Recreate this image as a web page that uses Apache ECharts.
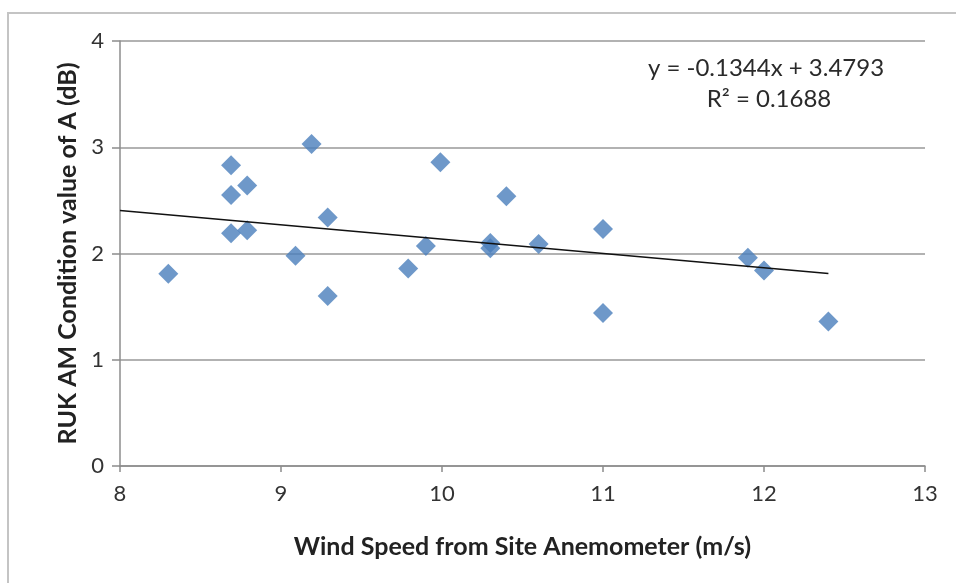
<!DOCTYPE html>
<html>
<head>
<meta charset="utf-8">
<script src="https://cdn.jsdelivr.net/npm/echarts@6/dist/echarts.min.js"></script>
<style>html,body{margin:0;padding:0;background:#fff}#c{width:956px;height:583px}</style>
</head>
<body>
<div id="c"></div>
<script>
const windSpeed = [8.3, 8.69, 8.69, 8.69, 8.79, 8.79, 9.09, 9.19, 9.29, 9.29, 9.79, 9.9, 9.99, 10.3, 10.3, 10.4, 10.6, 11.0, 11.0, 11.9, 12.0, 12.4];
const amValue   = [1.81, 2.83, 2.55, 2.19, 2.64, 2.22, 1.98, 3.03, 2.34, 1.60, 1.86, 2.07, 2.86, 2.10, 2.05, 2.54, 2.09, 2.23, 1.44, 1.96, 1.84, 1.36];
const trendSlope = -0.1344;
const trendIntercept = 3.4793;
const trendRange = [8, 12.4];
const xTicks = [8, 9, 10, 11, 12, 13];
const yTicks = [0, 1, 2, 3, 4];
const eqLine1 = 'y = -0.1344x + 3.4793';
const eqLine2 = 'R² = 0.1688';

const points = windSpeed.map((x, i) => [x, amValue[i]]);
const trend = trendRange.map(x => [x, trendSlope * x + trendIntercept]);

const chart = echarts.init(document.getElementById('c'));
const font = 'Lato, "Open Sans", sans-serif';
chart.setOption({
  animation: false,
  backgroundColor: '#fff',
  grid: {left: 120, right: 31, top: 41, bottom: 117},
  graphic: [
    {type: 'rect', shape: {x: 8, y: 13, width: 960, height: 580}, style: {fill: 'none', stroke: '#c4c4c4', lineWidth: 2}, silent: true, z: -10},
    {type: 'text', x: 766, y: 68, style: {text: eqLine1, font: '24px ' + font, fill: '#2a2a2a', align: 'center', verticalAlign: 'middle'}},
    {type: 'text', x: 769, y: 99, style: {text: eqLine2, font: '24px ' + font, fill: '#2a2a2a', align: 'center', verticalAlign: 'middle'}}
  ],
  xAxis: {
    type: 'value', min: xTicks[0], max: xTicks[xTicks.length - 1], interval: 1,
    name: 'Wind Speed from Site Anemometer (m/s)', nameLocation: 'middle', nameGap: 68,
    nameTextStyle: {fontFamily: font, fontWeight: 'bold', fontSize: 25, color: '#222'},
    axisLine: {show: true, onZero: false, lineStyle: {color: '#8c8c8c', width: 1.5}},
    axisTick: {show: true, length: 6, inside: false, lineStyle: {color: '#8c8c8c', width: 1.5}},
    axisLabel: {fontFamily: font, fontSize: 22, color: '#333', margin: 17},
    splitLine: {show: false}
  },
  yAxis: {
    type: 'value', min: yTicks[0], max: yTicks[yTicks.length - 1], interval: 1,
    name: 'RUK AM Condition value of A (dB)', nameLocation: 'middle', nameGap: 37, nameRotate: 90,
    nameTextStyle: {fontFamily: font, fontWeight: 'bold', fontSize: 25, color: '#222'},
    axisLine: {show: true, onZero: false, lineStyle: {color: '#8c8c8c', width: 1.5}},
    axisTick: {show: true, length: 8, inside: false, lineStyle: {color: '#8c8c8c', width: 1.5}},
    axisLabel: {fontFamily: font, fontSize: 22, color: '#333', margin: 16},
    splitLine: {show: true, lineStyle: {color: '#999', width: 1.5}}
  },
  series: [
    {type: 'scatter', data: points, symbol: 'diamond', symbolSize: 20,
     itemStyle: {color: '#4a7ebb'}, z: 3},
    {type: 'line', data: trend, symbol: 'none', lineStyle: {color: '#111', width: 1.5}, z: 4}
  ]
});
</script>
</body>
</html>
